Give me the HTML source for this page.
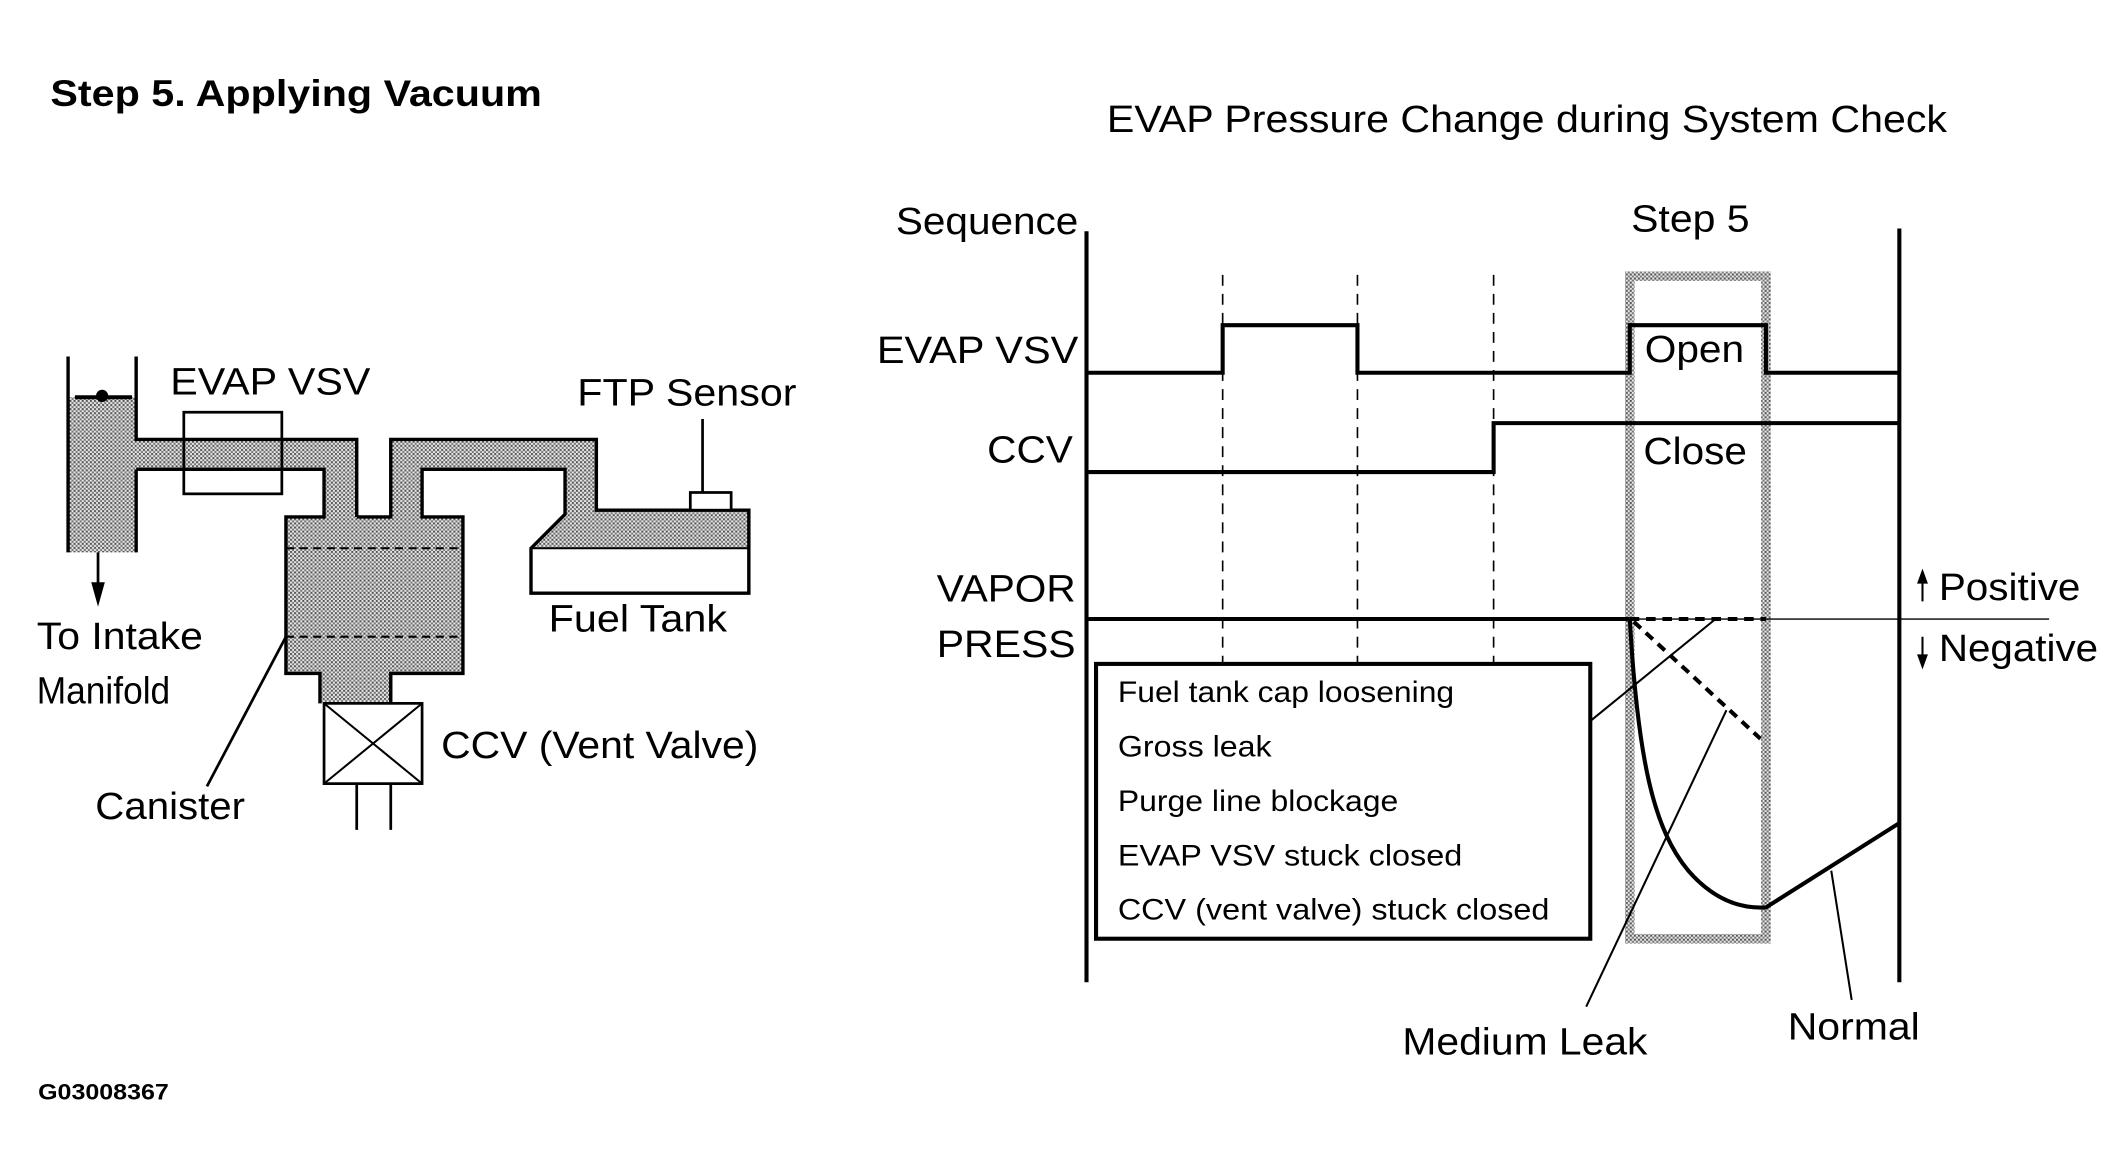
<!DOCTYPE html>
<html><head><meta charset="utf-8"><style>html,body{margin:0;padding:0;background:#fff}svg{display:block}text{font-family:"Liberation Sans",Arial,sans-serif;fill:#000}</style></head><body>
<svg width="2124" height="1170" viewBox="0 0 1560 860" preserveAspectRatio="none" xmlns="http://www.w3.org/2000/svg">
<defs>
<pattern id="p" width="3" height="3" patternUnits="userSpaceOnUse"><rect width="3" height="3" fill="#e8e8e8"/><rect width="1.5" height="1.5" fill="#555"/><rect x="1.5" y="1.5" width="1.5" height="1.5" fill="#777"/></pattern>
</defs>
<text x="37" y="78" font-size="27" font-weight="bold" textLength="361" lengthAdjust="spacingAndGlyphs">Step 5. Applying Vacuum</text>
<text x="813" y="97" font-size="28" textLength="617" lengthAdjust="spacingAndGlyphs">EVAP Pressure Change during System Check</text>
<text x="28" y="808" font-size="16" font-weight="bold" textLength="96" lengthAdjust="spacingAndGlyphs">G03008367</text>

<g fill="url(#p)" stroke="none">
<rect x="50" y="292" width="50" height="114"/>
<rect x="100" y="323" width="162" height="22"/>
<rect x="238" y="345" width="24" height="36"/>
<rect x="287" y="323" width="151" height="22"/>
<rect x="287" y="345" width="23" height="36"/>
<rect x="210" y="380" width="130" height="115"/>
<rect x="235" y="495" width="52" height="22"/>
<polygon points="415,345 438,345 438,375 550,375 550,403 390,403 415,378"/>
</g>
<g stroke="#000" stroke-width="2.5" fill="none">
<path d="M50,262 V406 M100,262 V323 H262 V380 M100,345 V406 M100,345 H238 V380 H210 V495 H235 V517 M287,517 V495 H340 V380 H310 V345 H415 V378 L390,403 V436 H550 V375 H438 V323 H287 V380 H262"/>
<path d="M55,292 H97" stroke-width="3"/>
<rect x="135" y="303" width="72" height="60" stroke-width="2"/>
<rect x="238" y="517" width="72" height="59" stroke-width="2"/>
<path d="M238,517 L310,576 M310,517 L238,576" stroke-width="1.5"/>
<path d="M262,576 V610 M287,576 V610" stroke-width="2"/>
<path d="M390,403 H550" stroke-width="1.5"/>
<rect x="507" y="362" width="30" height="13" fill="#fff" stroke-width="2"/>
<path d="M516,308 V362" stroke-width="2"/>
<path d="M210,403 H340 M210,468 H340" stroke-width="1.5" stroke-dasharray="6,4"/>
<path d="M72,406 V430" stroke-width="2"/>
<path d="M210,468 L152,578" stroke-width="2"/>
</g>
<circle cx="75" cy="291" r="4.5" fill="#000"/>
<polygon points="67,428 77,428 72,446" fill="#000"/>
<g font-size="28" lengthAdjust="spacingAndGlyphs">
<text x="125" y="290" textLength="147" lengthAdjust="spacingAndGlyphs">EVAP VSV</text>
<text x="424" y="298" textLength="161" lengthAdjust="spacingAndGlyphs">FTP Sensor</text>
<text x="27" y="477" textLength="122" lengthAdjust="spacingAndGlyphs">To Intake</text>
<text x="27" y="517" textLength="98" lengthAdjust="spacingAndGlyphs">Manifold</text>
<text x="403" y="464" textLength="131" lengthAdjust="spacingAndGlyphs">Fuel Tank</text>
<text x="324" y="557" textLength="233" lengthAdjust="spacingAndGlyphs">CCV (Vent Valve)</text>
<text x="70" y="602" textLength="110" lengthAdjust="spacingAndGlyphs">Canister</text>
</g>

<rect x="1197" y="203" width="100" height="487" fill="none" stroke="url(#p)" stroke-width="7"/>
<g stroke="#000" fill="none">
<path d="M798,170 V722 M1395,168 V722" stroke-width="3"/>
<path d="M898,202 V490 M997,202 V490 M1097,202 V490" stroke-width="1.2" stroke-dasharray="8,6"/>
<path d="M798,274 H898 V239 H997 V274 H1197 V239 H1297 V274 H1395" stroke-width="3"/>
<path d="M798,347 H1097 V311 H1395" stroke-width="3"/>
<path d="M798,455 H1197" stroke-width="3"/>
<path d="M1197,455 H1505" stroke-width="1"/>
<path d="M1197,455 H1297" stroke-width="3" stroke-dasharray="7,5"/>
<path d="M1200,457 L1293,543" stroke-width="3" stroke-dasharray="7,5"/>
<path d="M1197,455 C1203,560 1215,610 1240,640 C1260,663 1280,668 1297,667 L1395,605" stroke-width="3"/>
<path d="M1168,530 L1260,455" stroke-width="1.5"/>
<path d="M1165,740 L1268,522" stroke-width="1.5"/>
<path d="M1360,735 L1345,640" stroke-width="1.5"/>
<rect x="805" y="488" width="363" height="202" fill="#fff" stroke-width="3"/>
<path d="M1412,426 V442 M1412,468 V484" stroke-width="1.5"/>
</g>
<polygon points="1408,429 1416,429 1412,418" fill="#000"/>
<polygon points="1408,481 1416,481 1412,492" fill="#000"/>
<g font-size="22">
<text x="821" y="516" textLength="247" lengthAdjust="spacingAndGlyphs">Fuel tank cap loosening</text>
<text x="821" y="556" textLength="113" lengthAdjust="spacingAndGlyphs">Gross leak</text>
<text x="821" y="596" textLength="206" lengthAdjust="spacingAndGlyphs">Purge line blockage</text>
<text x="821" y="636" textLength="253" lengthAdjust="spacingAndGlyphs">EVAP VSV stuck closed</text>
<text x="821" y="676" textLength="317" lengthAdjust="spacingAndGlyphs">CCV (vent valve) stuck closed</text>
</g>
<g font-size="28">
<text x="658" y="172" textLength="134" lengthAdjust="spacingAndGlyphs">Sequence</text>
<text x="644" y="267" textLength="148" lengthAdjust="spacingAndGlyphs">EVAP VSV</text>
<text x="725" y="340" textLength="63" lengthAdjust="spacingAndGlyphs">CCV</text>
<text x="688" y="442" textLength="102" lengthAdjust="spacingAndGlyphs">VAPOR</text>
<text x="688" y="483" textLength="102" lengthAdjust="spacingAndGlyphs">PRESS</text>
<text x="1198" y="170" textLength="87" lengthAdjust="spacingAndGlyphs">Step 5</text>
<text x="1208" y="266" textLength="73" lengthAdjust="spacingAndGlyphs">Open</text>
<text x="1207" y="341" textLength="76" lengthAdjust="spacingAndGlyphs">Close</text>
<text x="1424" y="441" textLength="104" lengthAdjust="spacingAndGlyphs">Positive</text>
<text x="1424" y="486" textLength="117" lengthAdjust="spacingAndGlyphs">Negative</text>
<text x="1030" y="775" textLength="180" lengthAdjust="spacingAndGlyphs">Medium Leak</text>
<text x="1313" y="764" textLength="97" lengthAdjust="spacingAndGlyphs">Normal</text>
</g>
</svg>
</body></html>
